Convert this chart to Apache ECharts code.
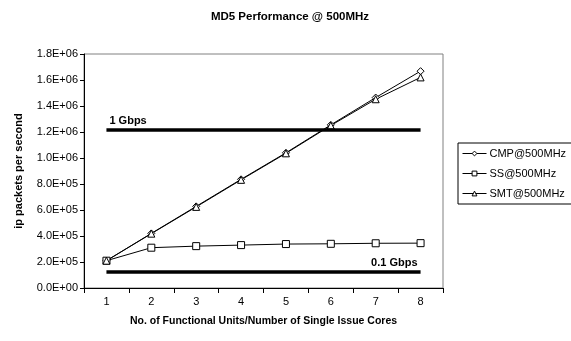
<!DOCTYPE html>
<html><head><meta charset="utf-8">
<script src="https://cdn.jsdelivr.net/npm/echarts@6/dist/echarts.min.js"></script>
<style>html,body{margin:0;padding:0;background:#fff}#c{width:571px;height:341px}</style>
</head><body><div id="c"></div>
<script>
const categories = ['1','2','3','4','5','6','7','8'];
const cmp = [210000, 420000, 628000, 836000, 1040000, 1255000, 1465000, 1668000];
const ss  = [210000, 310000, 322000, 330000, 338000, 340000, 344000, 345000];
const smt = [210000, 418000, 624000, 832000, 1036000, 1250000, 1452000, 1620000];
const refLines = [{name: '1 Gbps', value: 1220000, pos: 'insideStartTop'}, {name: '0.1 Gbps', value: 128000, pos: 'insideEndTop'}];

function fmt(v){
  if (v === 0) return '0.0E+00';
  const e = Math.floor(Math.log10(v));
  const m = v / Math.pow(10, e);
  return m.toFixed(1) + 'E+' + (e < 10 ? '0' : '') + e;
}
const font = 'Liberation Sans, Arial, sans-serif';
const chart = echarts.init(document.getElementById('c'));
const mk = (name, data, symbol) => ({
  name, type: 'line', data, symbol, symbolSize: 7,
  showAllSymbol: true,
  lineStyle: {color: '#000', width: 1},
  itemStyle: {color: '#fff', borderColor: '#000', borderWidth: 1},
  emphasis: {disabled: true}, z: 3
});
const cmpS = mk('CMP@500MHz', cmp, 'diamond');
cmpS.markLine = {
  silent: true, symbol: 'none', animation: false,
  lineStyle: {color: '#000', width: 3.5, type: 'solid'},
  data: refLines.map(r => [
    {coord: [0, r.value], name: r.name, label: {show: true, position: r.pos, formatter: r.name, color: '#000', fontWeight: 'bold', fontSize: 11, fontFamily: font, distance: 3}},
    {coord: [7, r.value]}
  ])
};
chart.setOption({
  animation: false,
  backgroundColor: '#fff',
  title: {text: 'MD5 Performance @ 500MHz', left: 285, top: 6, textAlign: 'center',
    textStyle: {fontSize: 11.5, fontWeight: 'bold', fontFamily: font, color: '#000'}},
  grid: {left: 84, top: 54, width: 359, height: 234, show: true, borderColor: '#808080', borderWidth: 1, containLabel: false},
  legend: {
    orient: 'vertical', left: 458, top: 143, data: ['CMP@500MHz', 'SS@500MHz', 'SMT@500MHz'],
    itemWidth: 24, itemHeight: 6, itemGap: 9, padding: [5, 8, 5, 4],
    borderColor: '#000', borderWidth: 1,
    lineStyle: {width: 1, color: '#000'},
    itemStyle: {color: '#fff', borderColor: '#000', borderWidth: 1},
    textStyle: {fontSize: 11, fontFamily: font, color: '#000', padding: [0, 0, 0, -2]}
  },
  xAxis: {
    type: 'category', data: categories, boundaryGap: true,
    name: 'No. of Functional Units/Number of Single Issue Cores', nameLocation: 'middle', nameGap: 28,
    nameTextStyle: {fontSize: 10.5, fontWeight: 'bold', fontFamily: font, color: '#000'},
    axisLine: {lineStyle: {color: '#000', width: 1}},
    axisTick: {show: true, length: 5, lineStyle: {color: '#000'}},
    axisLabel: {fontSize: 11, fontFamily: font, color: '#000', margin: 8},
    splitLine: {show: false}
  },
  yAxis: {
    type: 'value', min: 0, max: 1800000, interval: 200000,
    name: 'ip packets per second', nameLocation: 'middle', nameGap: 60,
    nameTextStyle: {fontSize: 11, fontWeight: 'bold', fontFamily: font, color: '#000'},
    axisLine: {show: true, lineStyle: {color: '#000', width: 1}},
    axisTick: {show: true, length: 4, lineStyle: {color: '#000'}},
    axisLabel: {fontSize: 11, fontFamily: font, color: '#000', margin: 6, formatter: fmt},
    splitLine: {show: false}
  },
  series: [cmpS, mk('SS@500MHz', ss, 'rect'), mk('SMT@500MHz', smt, 'triangle')]
});
</script></body></html>
